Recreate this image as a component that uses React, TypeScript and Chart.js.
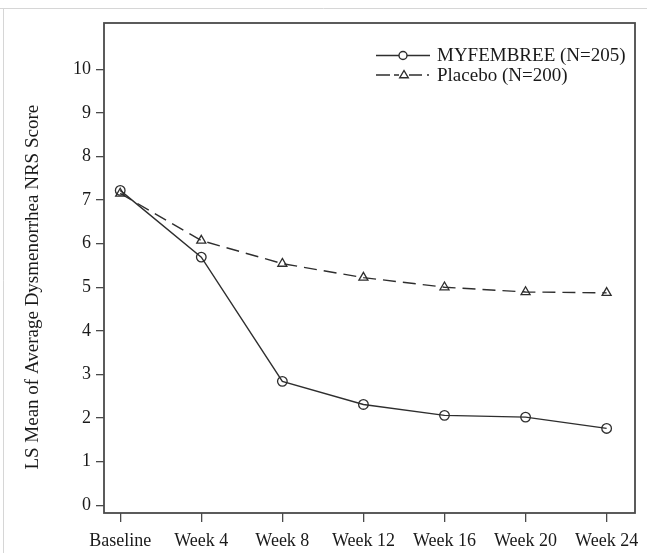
import React, { useEffect, useRef } from "react";
import { Chart, registerables } from "chart.js";

Chart.register(...registerables);

const categories = ["Baseline", "Week 4", "Week 8", "Week 12", "Week 16", "Week 20", "Week 24"];
const myfembree = [7.22, 5.69, 2.84, 2.31, 2.06, 2.02, 1.76];
const placebo = [7.15, 6.07, 5.54, 5.22, 5.0, 4.89, 4.87];
const yTicks = [0, 1, 2, 3, 4, 5, 6, 7, 8, 9, 10];
const seriesNames = ["MYFEMBREE (N=205)", "Placebo (N=200)"];
const yTitle = "LS Mean of Average Dysmenorrhea NRS Score";

const FONT = "'Liberation Serif', 'Times New Roman', serif";
const INK = "#2e2e2e";
const TXT = "#1a1a1a";

function drawTriangle(ctx: CanvasRenderingContext2D, x: number, y: number, r: number) {
  ctx.beginPath();
  ctx.moveTo(x, y - r);
  ctx.lineTo(x + r * 0.95, y + r * 0.6);
  ctx.lineTo(x - r * 0.95, y + r * 0.6);
  ctx.closePath();
  ctx.fillStyle = "#fff";
  ctx.fill();
  ctx.stroke();
}

const decor = {
  id: "decor",
  beforeDraw(chart: any) {
    const ctx = chart.ctx as CanvasRenderingContext2D;
    ctx.save();
    ctx.fillStyle = "#fff";
    ctx.fillRect(0, 0, chart.width, chart.height);
    ctx.strokeStyle = "#d6d6d6";
    ctx.lineWidth = 1;
    ctx.beginPath();
    ctx.moveTo(0, 8.5);
    ctx.lineTo(chart.width, 8.5);
    ctx.moveTo(3.5, 8.5);
    ctx.lineTo(3.5, chart.height);
    ctx.stroke();
    ctx.restore();
  },
  afterDraw(chart: any) {
    const ctx = chart.ctx as CanvasRenderingContext2D;
    const a = chart.chartArea;
    ctx.save();
    // box
    ctx.strokeStyle = "#4a4a4a";
    ctx.lineWidth = 1.8;
    ctx.strokeRect(a.left, a.top, a.right - a.left, a.bottom - a.top);

    // y title
    const yScale = chart.scales.y;
    const cy = yScale.getPixelForValue(5);
    ctx.save();
    ctx.translate(38, cy);
    ctx.rotate(-Math.PI / 2);
    ctx.font = `19px ${FONT}`;
    ctx.fillStyle = TXT;
    ctx.textAlign = "center";
    ctx.textBaseline = "alphabetic";
    ctx.fillText(yTitle, 0, 0);
    ctx.restore();

    // legend
    ctx.strokeStyle = INK;
    ctx.lineWidth = 1.4;
    ctx.font = `19px ${FONT}`;
    ctx.fillStyle = TXT;
    ctx.textAlign = "left";
    ctx.textBaseline = "middle";
    const y1 = 55.5;
    const y2 = 75;
    ctx.beginPath();
    ctx.moveTo(376, y1);
    ctx.lineTo(430, y1);
    ctx.stroke();
    ctx.beginPath();
    ctx.arc(403, y1, 4, 0, Math.PI * 2);
    ctx.fillStyle = "#fff";
    ctx.fill();
    ctx.stroke();
    ctx.beginPath();
    const segs = [[376, 390], [394, 399], [409, 422], [427, 429]];
    segs.forEach(([s, e]) => {
      ctx.moveTo(s, y2);
      ctx.lineTo(e, y2);
    });
    ctx.stroke();
    drawTriangle(ctx, 404, y2, 4.5);
    ctx.fillStyle = TXT;
    ctx.fillText(seriesNames[0], 437, y1 + 1);
    ctx.fillText(seriesNames[1], 437, y2 + 1);
    ctx.restore();
  },
};

export default function App() {
  const ref = useRef<HTMLCanvasElement>(null);
  useEffect(() => {
    if (!ref.current) return;
    const chart = new Chart(ref.current, {
      type: "line",
      data: {
        datasets: [
          {
            label: seriesNames[0],
            data: myfembree.map((v, i) => ({ x: i, y: v })),
            borderColor: INK,
            borderWidth: 1.4,
            pointStyle: "circle",
            pointRadius: 4.8,
            pointBorderWidth: 1.3,
            pointBorderColor: INK,
            pointBackgroundColor: "rgba(255,255,255,0)",
            tension: 0,
          },
          {
            label: seriesNames[1],
            data: placebo.map((v, i) => ({ x: i, y: v })),
            borderColor: INK,
            borderWidth: 1.4,
            borderDash: [13, 7],
            pointStyle: "triangle",
            pointRadius: 5.2,
            pointBorderWidth: 1.3,
            pointBorderColor: INK,
            pointBackgroundColor: "rgba(255,255,255,0)",
            tension: 0,
          },
        ],
      },
      options: {
        animation: false,
        responsive: false,
        events: [],
        layout: { padding: { top: 23, right: 12, left: 0, bottom: 0 } },
        plugins: { legend: { display: false }, tooltip: { enabled: false }, title: { display: false } },
        scales: {
          x: {
            type: "linear",
            min: -0.2,
            max: 6.35,
            afterBuildTicks: (s: any) => {
              s.ticks = categories.map((_, i) => ({ value: i }));
            },
            afterFit: (s: any) => {
              s.height = 40;
            },
            ticks: {
              autoSkip: false,
              maxRotation: 0,
              padding: 8,
              color: TXT,
              font: { family: FONT, size: 18 },
              callback: (v: any) => categories[Math.round(Number(v))] ?? "",
            },
            grid: { drawOnChartArea: false, drawTicks: true, tickLength: 9, color: "#4a4a4a", lineWidth: 1.3 },
            border: { display: false },
          },
          y: {
            type: "linear",
            min: -0.18,
            max: 11.06,
            afterBuildTicks: (s: any) => {
              s.ticks = yTicks.map((v) => ({ value: v }));
            },
            afterFit: (s: any) => {
              s.width = 104;
            },
            ticks: {
              padding: 5,
              color: TXT,
              font: { family: FONT, size: 18 },
              callback: (v: any) => String(v),
            },
            grid: { drawOnChartArea: false, drawTicks: true, tickLength: 8, color: "#4a4a4a", lineWidth: 1.3 },
            border: { display: false },
          },
        },
      },
      plugins: [decor],
    });
    return () => chart.destroy();
  }, []);
  return (
    <div style={{ position: "fixed", left: 0, top: 0, width: 647, height: 553, background: "#fff" }}>
      <canvas ref={ref} width={647} height={553} style={{ display: "block" }} />
    </div>
  );
}
